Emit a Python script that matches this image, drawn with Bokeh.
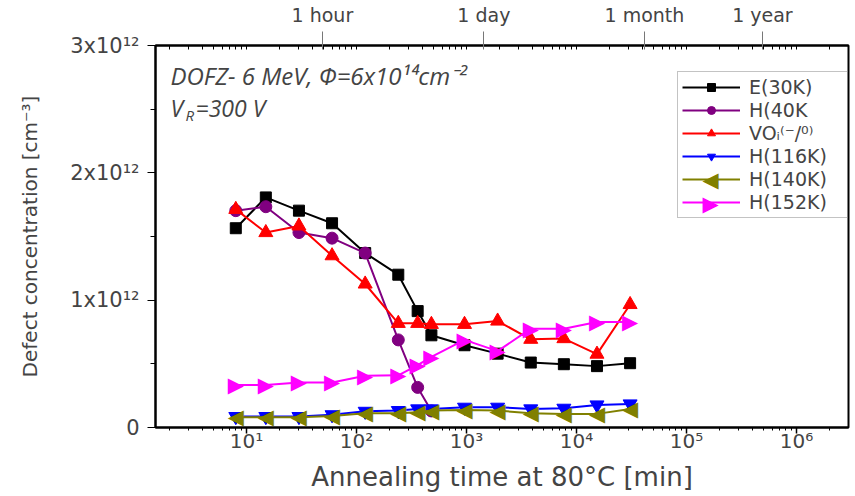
from bokeh.plotting import figure
from bokeh.models import Range1d, LogAxis, FixedTicker, Legend, LegendItem, Label
from bokeh.core.properties import value
from bokeh.embed import file_html
from bokeh.resources import INLINE

# ---- data (concentrations in units of 1e12 cm^-3) ----
time_min = [8, 15, 30, 60, 120, 240, 360, 480, 960, 1920, 3840, 7680, 15360, 30720]
e30k = [1.565, 1.807, 1.703, 1.604, 1.37, 1.20, 0.914, 0.724, 0.646, 0.58, 0.51, 0.497, 0.482, 0.505]
h40k = [1.703, 1.734, 1.531, 1.487, 1.37, 0.688, 0.315, 0.13]
vo = [1.713, 1.531, 1.583, 1.349, 1.127, 0.818, 0.818, 0.81, 0.81, 0.836, 0.693, 0.698, 0.576, 0.966]
h116 = [0.086, 0.086, 0.086, 0.10, 0.127, 0.133, 0.146, 0.146, 0.159, 0.159, 0.146, 0.151, 0.177, 0.185]
h140 = [0.08, 0.08, 0.08, 0.091, 0.112, 0.112, 0.12, 0.133, 0.138, 0.133, 0.112, 0.107, 0.107, 0.146]
h152 = [0.333, 0.333, 0.354, 0.354, 0.406, 0.41, 0.49, 0.555, 0.688, 0.60, 0.776, 0.776, 0.828, 0.828]
scale = 1e12

y_ticks = [0, 1e12, 2e12, 3e12]
y_labels = ["0", "1x10¹²", "2x10¹²", "3x10¹²"]
x_decades = [1, 10, 100, 1000, 10000, 100000, 1000000]
x_labels = ["10⁰", "10¹", "10²", "10³", "10⁴", "10⁵", "10⁶"]
top_ticks = [49, 1440, 41500, 490000]
top_labels = ["1 hour", "1 day", "1 month", "1 year"]

FONT = "DejaVu Sans"

p = figure(width=855, height=496, x_axis_type="log",
           x_range=Range1d(1.49, 2.97e6), y_range=Range1d(0, 3e12),
           output_backend="svg", toolbar_location=None,
           min_border_left=155, min_border_right=7, min_border_top=43, min_border_bottom=69)
p.xgrid.visible = False
p.ygrid.visible = False
p.outline_line_color = "black"
p.outline_line_width = 2
p.background_fill_color = "white"
p.border_fill_color = "white"

minors = [m * d for d in x_decades for m in range(2, 10)]

xa = p.xaxis[0]
xa.ticker = FixedTicker(ticks=x_decades, minor_ticks=minors)
xa.major_label_overrides = {d: l for d, l in zip(x_decades, x_labels)}
xa.axis_label = "Annealing time at 80°C [min]"
xa.axis_label_text_font = FONT
xa.axis_label_text_font_style = "normal"
xa.axis_label_text_font_size = "26px"
xa.axis_label_standoff = 6
xa.major_label_text_font = FONT
xa.major_label_text_font_size = "20px"
xa.major_label_standoff = -5
xa.axis_line_width = 2
xa.major_tick_in = 0
xa.major_tick_out = 6
xa.minor_tick_in = 0
xa.minor_tick_out = 3
xa.major_tick_line_width = 1.5

ya = p.yaxis[0]
ya.ticker = FixedTicker(ticks=y_ticks, minor_ticks=[0.5e12, 1.5e12, 2.5e12])
ya.major_label_overrides = {t: l for t, l in zip(y_ticks, y_labels)}
ya.axis_label = "Defect concentration [cm⁻³]"
ya.axis_label_text_font = FONT
ya.axis_label_text_font_style = "normal"
ya.axis_label_text_font_size = "20px"
ya.axis_label_standoff = 25
ya.major_label_text_font = FONT
ya.major_label_text_font_size = "21px"
ya.major_label_standoff = 8
ya.axis_line_width = 2
ya.major_tick_in = 0
ya.major_tick_out = 8
ya.minor_tick_in = 0
ya.minor_tick_out = 5

top = LogAxis(ticker=FixedTicker(ticks=top_ticks, minor_ticks=x_decades + minors),
              major_label_overrides={t: l for t, l in zip(top_ticks, top_labels)},
              major_label_text_font=FONT, major_label_text_font_size="19px",
              major_label_standoff=6,
              axis_line_width=2, major_tick_in=4, major_tick_out=14,
              major_tick_line_color="#777777",
              minor_tick_in=4, minor_tick_out=0)
p.add_layout(top, "above")

series = [
    ("E(30K)", e30k, "black", "square", 11),
    ("H(40K", h40k, "purple", "circle", 12),
    ("VOᵢ⁽⁻/⁰⁾", vo, "red", "triangle", 14),
    ("H(116K)", h116, "blue", "inverted_triangle", 14),
    ("H(140K)", h140, "olive", "◀", 21),
    ("H(152K)", h152, "magenta", "▶", 21),
]

items = []
text_markers = []
for name, vals, color, marker, size in series:
    xs = time_min[:len(vals)]
    ys = [v * scale for v in vals]
    r1 = p.line(xs, ys, line_color=color, line_width=2)
    if marker in ("◀", "▶"):
        r2 = p.text(xs, ys, text=[marker] * len(xs), text_color=color,
                    text_font=value(FONT), text_font_size=f"{size}px",
                    text_align="center", text_baseline="middle")
        text_markers.append((marker, color, size))
    else:
        r2 = p.scatter(xs, ys, marker=marker, size=size,
                       fill_color=color, line_color=color)
    items.append(LegendItem(label=name, renderers=[r1, r2]))

legend = Legend(items=items, location=(522, 209), margin=0, padding=4,
                label_text_font=FONT, label_text_font_size="19px",
                label_height=20, glyph_height=20, glyph_width=58,
                label_width=103, spacing=1, label_standoff=9,
                border_line_color="#888888", border_line_width=1,
                background_fill_alpha=0.0)
p.add_layout(legend, "center")

# markers for the two text-drawn series inside the legend box
leg_rows_y = [248, 224]
for (marker, color, size), yy in zip(text_markers, leg_rows_y):
    p.add_layout(Label(x=555, y=yy, x_units="screen", y_units="screen",
                       text=marker, text_color=color, text_font=FONT,
                       text_font_size=f"{size}px", text_align="center",
                       text_baseline="middle", level="overlay"))

ann_font = "Open Sans"
p.add_layout(Label(x=15, y=352, x_units="screen", y_units="screen",
                   text="DOFZ- 6 MeV, Φ=6x10¹⁴cm⁻²", text_font=ann_font,
                   text_font_style="italic", text_font_size="24px",
                   text_baseline="middle"))
p.add_layout(Label(x=15, y=320, x_units="screen", y_units="screen",
                   text="V", text_font=ann_font,
                   text_font_style="italic", text_font_size="23px",
                   text_baseline="middle"))
p.add_layout(Label(x=30, y=313, x_units="screen", y_units="screen",
                   text="R", text_font=ann_font,
                   text_font_style="italic", text_font_size="15px",
                   text_baseline="middle"))
p.add_layout(Label(x=40, y=320, x_units="screen", y_units="screen",
                   text="=300 V", text_font=ann_font,
                   text_font_style="italic", text_font_size="23px",
                   text_baseline="middle"))

open("out.html", "w").write(file_html(p, INLINE))
